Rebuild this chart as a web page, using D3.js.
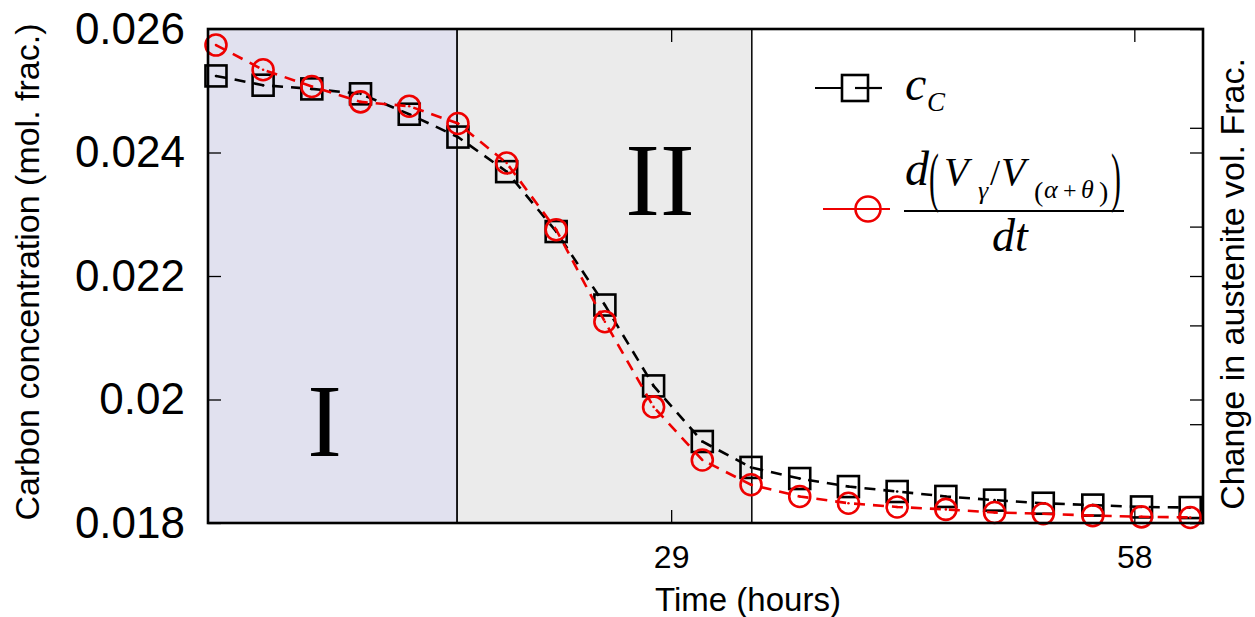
<!DOCTYPE html>
<html>
<head>
<meta charset="utf-8">
<script src="https://cdn.jsdelivr.net/npm/d3@7"></script>
<style>
  html, body { margin: 0; padding: 0; background: #fff; }
  svg { display: block; }
  .sans { font-family: "Liberation Sans", Arial, sans-serif; }
  .serif { font-family: "Liberation Serif", "Times New Roman", serif; }
</style>
</head>
<body>
<div id="chart"></div>
<script>
// time of each sample (hours)
const timeHours = [0.5, 3.45, 6.5, 9.55, 12.6, 15.65, 18.7, 21.8, 24.85, 27.9, 30.95,
  34.0, 37.05, 40.1, 43.15, 46.2, 49.25, 52.3, 55.4, 58.45, 61.5];
// c_C, carbon concentration (mol. frac.)
const carbonConc = [0.02524, 0.02509, 0.02503, 0.02495, 0.02462, 0.02425, 0.02369, 0.02272, 0.02153, 0.02022, 0.01932,
  0.01890, 0.01872, 0.01859, 0.01851, 0.01843, 0.01837, 0.01832, 0.01829, 0.01826, 0.01825];
// d(V_gamma / V_(alpha+theta)) / dt, drawn against the left scale
const austeniteRate = [0.02574, 0.02534, 0.02507, 0.02482, 0.02475, 0.02447, 0.02383, 0.02275, 0.02126, 0.01988, 0.01902,
  0.01862, 0.01843, 0.01832, 0.01826, 0.01822, 0.01817, 0.01815, 0.01812, 0.01810, 0.01809];

const xTicks = [29, 58];
const yTicks = [0.018, 0.02, 0.022, 0.024, 0.026];
const yTickLabels = ['0.018', '0.02', '0.022', '0.024', '0.026'];
const y2Ticks = [0, 0.2, 0.4, 0.6, 0.8, 1];
// stage boundaries (hours)
const stageStart = [0, 15.6];
const stageEnd = [15.6, 34.05];
const stageNames = ['I', 'II'];

const width = 1255, height = 617;
const margin = { top: 29, right: 52, bottom: 94, left: 208 };
const innerW = width - margin.left - margin.right;
const innerH = height - margin.top - margin.bottom;

const svg = d3.select('#chart').append('svg')
  .attr('width', width)
  .attr('height', height);

const g = svg.append('g').attr('transform', `translate(${margin.left},${margin.top})`);

const x = d3.scaleLinear().domain([0, 62.3]).range([0, innerW]);
const y = d3.scaleLinear().domain([0.018, 0.026]).range([innerH, 0]);
const y2 = d3.scaleLinear().domain([0, 1]).range([innerH, 0]);

// stage shading
const stageFill = ['#e1e1ef', '#ebebeb'];
g.selectAll('rect.stage')
  .data(stageNames)
  .enter()
  .append('rect')
  .attr('class', 'stage')
  .attr('x', (d, i) => x(stageStart[i]))
  .attr('y', 0)
  .attr('width', (d, i) => x(stageEnd[i]) - x(stageStart[i]))
  .attr('height', innerH)
  .attr('fill', (d, i) => stageFill[i])
  .attr('stroke', '#000')
  .attr('stroke-width', 1.5);

// roman numerals (label anchor in data units)
const stageLabelX = [7.3, 28.3];
const stageLabelY = [0.01909, 0.02299];
g.selectAll('text.stage')
  .data(stageNames)
  .enter()
  .append('text')
  .attr('class', 'stage serif')
  .attr('x', (d, i) => x(stageLabelX[i]))
  .attr('y', (d, i) => y(stageLabelY[i]))
  .attr('text-anchor', 'middle')
  .style('font-size', '104px')
  .style('fill', '#000')
  .text(d => d);

// axes, ticks pointing inward, labels only left/bottom
const tickLen = 13;
const styleAxis = sel => {
  sel.select('.domain').remove();
  sel.selectAll('.tick line').attr('stroke', '#000').attr('stroke-width', 1.3);
};

g.append('g')
  .attr('transform', `translate(0,${innerH})`)
  .call(d3.axisBottom(x).tickValues(xTicks).tickSize(-tickLen).tickPadding(22).tickFormat(d3.format('d')))
  .call(styleAxis)
  .selectAll('text')
  .attr('class', 'sans')
  .style('font-size', '32px')
  .style('fill', '#000');

g.append('g')
  .call(d3.axisTop(x).tickValues(xTicks).tickSize(-tickLen).tickFormat(''))
  .call(styleAxis);

g.append('g')
  .call(d3.axisLeft(y).tickValues(yTicks).tickSize(-tickLen).tickPadding(23).tickFormat((d, i) => yTickLabels[i]))
  .call(styleAxis)
  .selectAll('text')
  .attr('class', 'sans')
  .style('font-size', '44px')
  .style('fill', '#000');

g.append('g')
  .attr('transform', `translate(${innerW},0)`)
  .call(d3.axisRight(y).tickValues(yTicks).tickSize(-tickLen).tickFormat(''))
  .call(styleAxis);

g.append('g')
  .attr('transform', `translate(${innerW},0)`)
  .call(d3.axisRight(y2).tickValues(y2Ticks).tickSize(-tickLen).tickFormat(''))
  .call(styleAxis);

// series
const series = [
  { name: 'cC', values: carbonConc, color: '#000', shape: 'square' },
  { name: 'rate', values: austeniteRate, color: '#ee0000', shape: 'circle' }
];

const line = d3.line().x(d => x(d[0])).y(d => y(d[1]));

series.forEach(s => {
  const pts = timeHours.map((t, i) => [t, s.values[i]]);

  g.append('path')
    .datum(pts)
    .attr('fill', 'none')
    .attr('stroke', s.color)
    .attr('stroke-width', 2.6)
    .attr('stroke-dasharray', '11,8')
    .attr('d', line);

  const mk = g.append('g').selectAll('g')
    .data(pts)
    .enter()
    .append('g')
    .attr('transform', d => `translate(${x(d[0])},${y(d[1])})`);

  if (s.shape === 'square') {
    mk.append('rect')
      .attr('x', -10.5).attr('y', -10.5)
      .attr('width', 21).attr('height', 21)
      .attr('fill', 'none')
      .attr('stroke', s.color)
      .attr('stroke-width', 2.6);
  } else {
    mk.append('circle')
      .attr('r', 10.5)
      .attr('fill', 'none')
      .attr('stroke', s.color)
      .attr('stroke-width', 2.6);
  }
  mk.append('circle').attr('r', 1.3).attr('fill', s.color);
});

// frame
g.append('rect')
  .attr('x', 0).attr('y', 0)
  .attr('width', innerW).attr('height', innerH)
  .attr('fill', 'none')
  .attr('stroke', '#000')
  .attr('stroke-width', 2.6);

// axis titles
svg.append('text')
  .attr('class', 'sans')
  .attr('x', 748).attr('y', 611)
  .attr('text-anchor', 'middle')
  .style('font-size', '33px')
  .text('Time (hours)');

svg.append('text')
  .attr('class', 'sans')
  .attr('transform', 'translate(39,272) rotate(-90)')
  .attr('text-anchor', 'middle')
  .style('font-size', '34px')
  .text('Carbon concentration (mol. frac.)');

svg.append('text')
  .attr('class', 'sans')
  .attr('transform', 'translate(1244,284) rotate(-90)')
  .attr('text-anchor', 'middle')
  .style('font-size', '34px')
  .text('Change in austenite vol. Frac.');

// legend
const lg = svg.append('g');
lg.append('line').attr('x1', 815).attr('x2', 882).attr('y1', 88).attr('y2', 88)
  .attr('stroke', '#000').attr('stroke-width', 2.2);
lg.append('rect').attr('x', 842).attr('y', 75).attr('width', 26).attr('height', 26)
  .attr('fill', '#fff').attr('stroke', '#000').attr('stroke-width', 2.6);
lg.append('line').attr('x1', 855).attr('x2', 882).attr('y1', 88).attr('y2', 88)
  .attr('stroke', '#000').attr('stroke-width', 2.2);

lg.append('line').attr('x1', 823).attr('x2', 890).attr('y1', 209).attr('y2', 209)
  .attr('stroke', '#ee0000').attr('stroke-width', 2.2);
lg.append('circle').attr('cx', 868).attr('cy', 209).attr('r', 12.5)
  .attr('fill', 'none').attr('stroke', '#ee0000').attr('stroke-width', 2.6);

const txt = (s, px, py, size, italic) => lg.append('text')
  .attr('class', 'serif')
  .attr('x', px).attr('y', py)
  .style('font-style', italic ? 'italic' : 'normal')
  .style('font-size', size + 'px')
  .text(s);

txt('c', 905, 100, 48, true);
txt('C', 927, 111, 27, true);

txt('d', 905, 185, 48, true);
txt('V', 944, 185, 40, true);
txt('γ', 978, 199, 26, true);
txt('/', 990, 185, 36, false);
txt('V', 1001, 185, 40, true);
txt('(', 1034, 201, 28, false);
txt('α', 1044, 198, 26, true);
txt('+', 1063, 198, 24, false);
txt('θ', 1081, 198, 26, true);
txt(')', 1099, 201, 28, false);

// tall parentheses around the numerator
[['(', 929], [')', 1111]].forEach(p => {
  lg.append('text').attr('class', 'serif')
    .attr('transform', `translate(${p[1]},199) scale(0.45,1)`)
    .style('font-size', '66px')
    .style('font-weight', '300')
    .text(p[0]);
});

lg.append('line').attr('x1', 904).attr('x2', 1124).attr('y1', 211).attr('y2', 211)
  .attr('stroke', '#000').attr('stroke-width', 1.8);
txt('dt', 992, 251, 46, true);
</script>
</body>
</html>
